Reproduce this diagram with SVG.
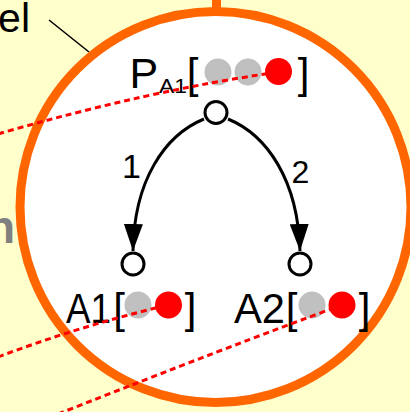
<svg xmlns="http://www.w3.org/2000/svg" width="410" height="412" viewBox="0 0 410 412">
  <style>
    .lbl { font-family: "Liberation Sans", Arial, sans-serif; fill: #000; }
    .node { fill: #fff; stroke: #000; stroke-width: 3; }
    .edge { fill: none; stroke: #000; stroke-width: 3; }
    .gray { fill: #c0c0c0; }
    .red { fill: #ff0000; }
    .dot { fill: none; stroke: #ff0000; stroke-width: 3; stroke-dasharray: 6 4; }
  </style>
  <defs>
    <marker id="arrow" markerUnits="userSpaceOnUse" markerWidth="27" markerHeight="19" viewBox="0 0 27 19" refX="27" refY="9.5" orient="auto">
      <path d="M0,0 L27,9.5 L0,19 Z" fill="#000"/>
    </marker>
  </defs>

  <rect x="0" y="0" width="410" height="412" fill="#ffffcc"/>

  <g id="outside-labels">
    <text class="lbl" x="30" y="32" font-size="41" text-anchor="end">el</text>
    <line x1="49" y1="20" x2="89" y2="52" stroke="#000" stroke-width="1.6"/>
    <text x="15" y="243" font-family="'Liberation Sans', Arial, sans-serif" font-weight="bold" font-size="46" fill="#808080" text-anchor="end">n</text>
  </g>

  <g id="zoom-circle">
    <line x1="216.5" y1="0" x2="216.5" y2="12" stroke="#ff6600" stroke-width="9"/>
    <circle cx="215.5" cy="207" r="195.5" fill="#fff" stroke="#ff6600" stroke-width="9"/>
  </g>

  <g id="gray-dots">
    <circle class="gray" cx="218" cy="72" r="13.5"/>
    <circle class="gray" cx="248" cy="72" r="13.5"/>
    <circle class="gray" cx="138" cy="305" r="13.5"/>
    <circle class="gray" cx="312" cy="305" r="13.5"/>
  </g>

  <g id="connectors">
    <path class="edge" d="M204,119 C165,135 134,180 133,251" marker-end="url(#arrow)"/>
    <path class="edge" d="M228,119 C267,135 298,180 300,251" marker-end="url(#arrow)"/>
    <text class="lbl" x="131.5" y="178" font-size="34" text-anchor="middle">1</text>
    <text class="lbl" x="300.5" y="183" font-size="32" text-anchor="middle">2</text>
  </g>

  <g id="node-PA1">
    <circle class="node" cx="216" cy="112.5" r="11"/>
    <text class="lbl" x="129.5" y="88" font-size="43">P</text>
    <text class="lbl" x="159" y="93" font-size="21" textLength="28" lengthAdjust="spacingAndGlyphs">A1</text>
    <text class="lbl" x="192.5" y="88" font-size="42" text-anchor="middle">[</text>
    <text class="lbl" x="303.5" y="88" font-size="42" text-anchor="middle">]</text>
  </g>

  <g id="node-A1">
    <circle class="node" cx="133" cy="264" r="11"/>
    <text class="lbl" x="66" y="323" font-size="43" textLength="45" lengthAdjust="spacingAndGlyphs">A1</text>
    <text class="lbl" x="119" y="323" font-size="42" text-anchor="middle">[</text>
    <text class="lbl" x="190.5" y="323" font-size="42" text-anchor="middle">]</text>
  </g>

  <g id="node-A2">
    <circle class="node" cx="300" cy="264" r="11"/>
    <text class="lbl" x="234" y="323" font-size="43" textLength="51" lengthAdjust="spacingAndGlyphs">A2</text>
    <text class="lbl" x="291.5" y="323" font-size="42" text-anchor="middle">[</text>
    <text class="lbl" x="364.5" y="323" font-size="42" text-anchor="middle">]</text>
  </g>

  <g id="red-links">
    <path class="dot" d="M-2,134 Q150,90 279,72"/>
    <path class="dot" d="M-2,357 Q80,326 168,305"/>
    <path class="dot" d="M58,414 Q230,346 342,305"/>
  </g>

  <g id="red-dots">
    <circle class="red" cx="278.5" cy="71.5" r="13.5"/>
    <circle class="red" cx="168.5" cy="305" r="13.5"/>
    <circle class="red" cx="342" cy="305" r="13.5"/>
  </g>
</svg>
